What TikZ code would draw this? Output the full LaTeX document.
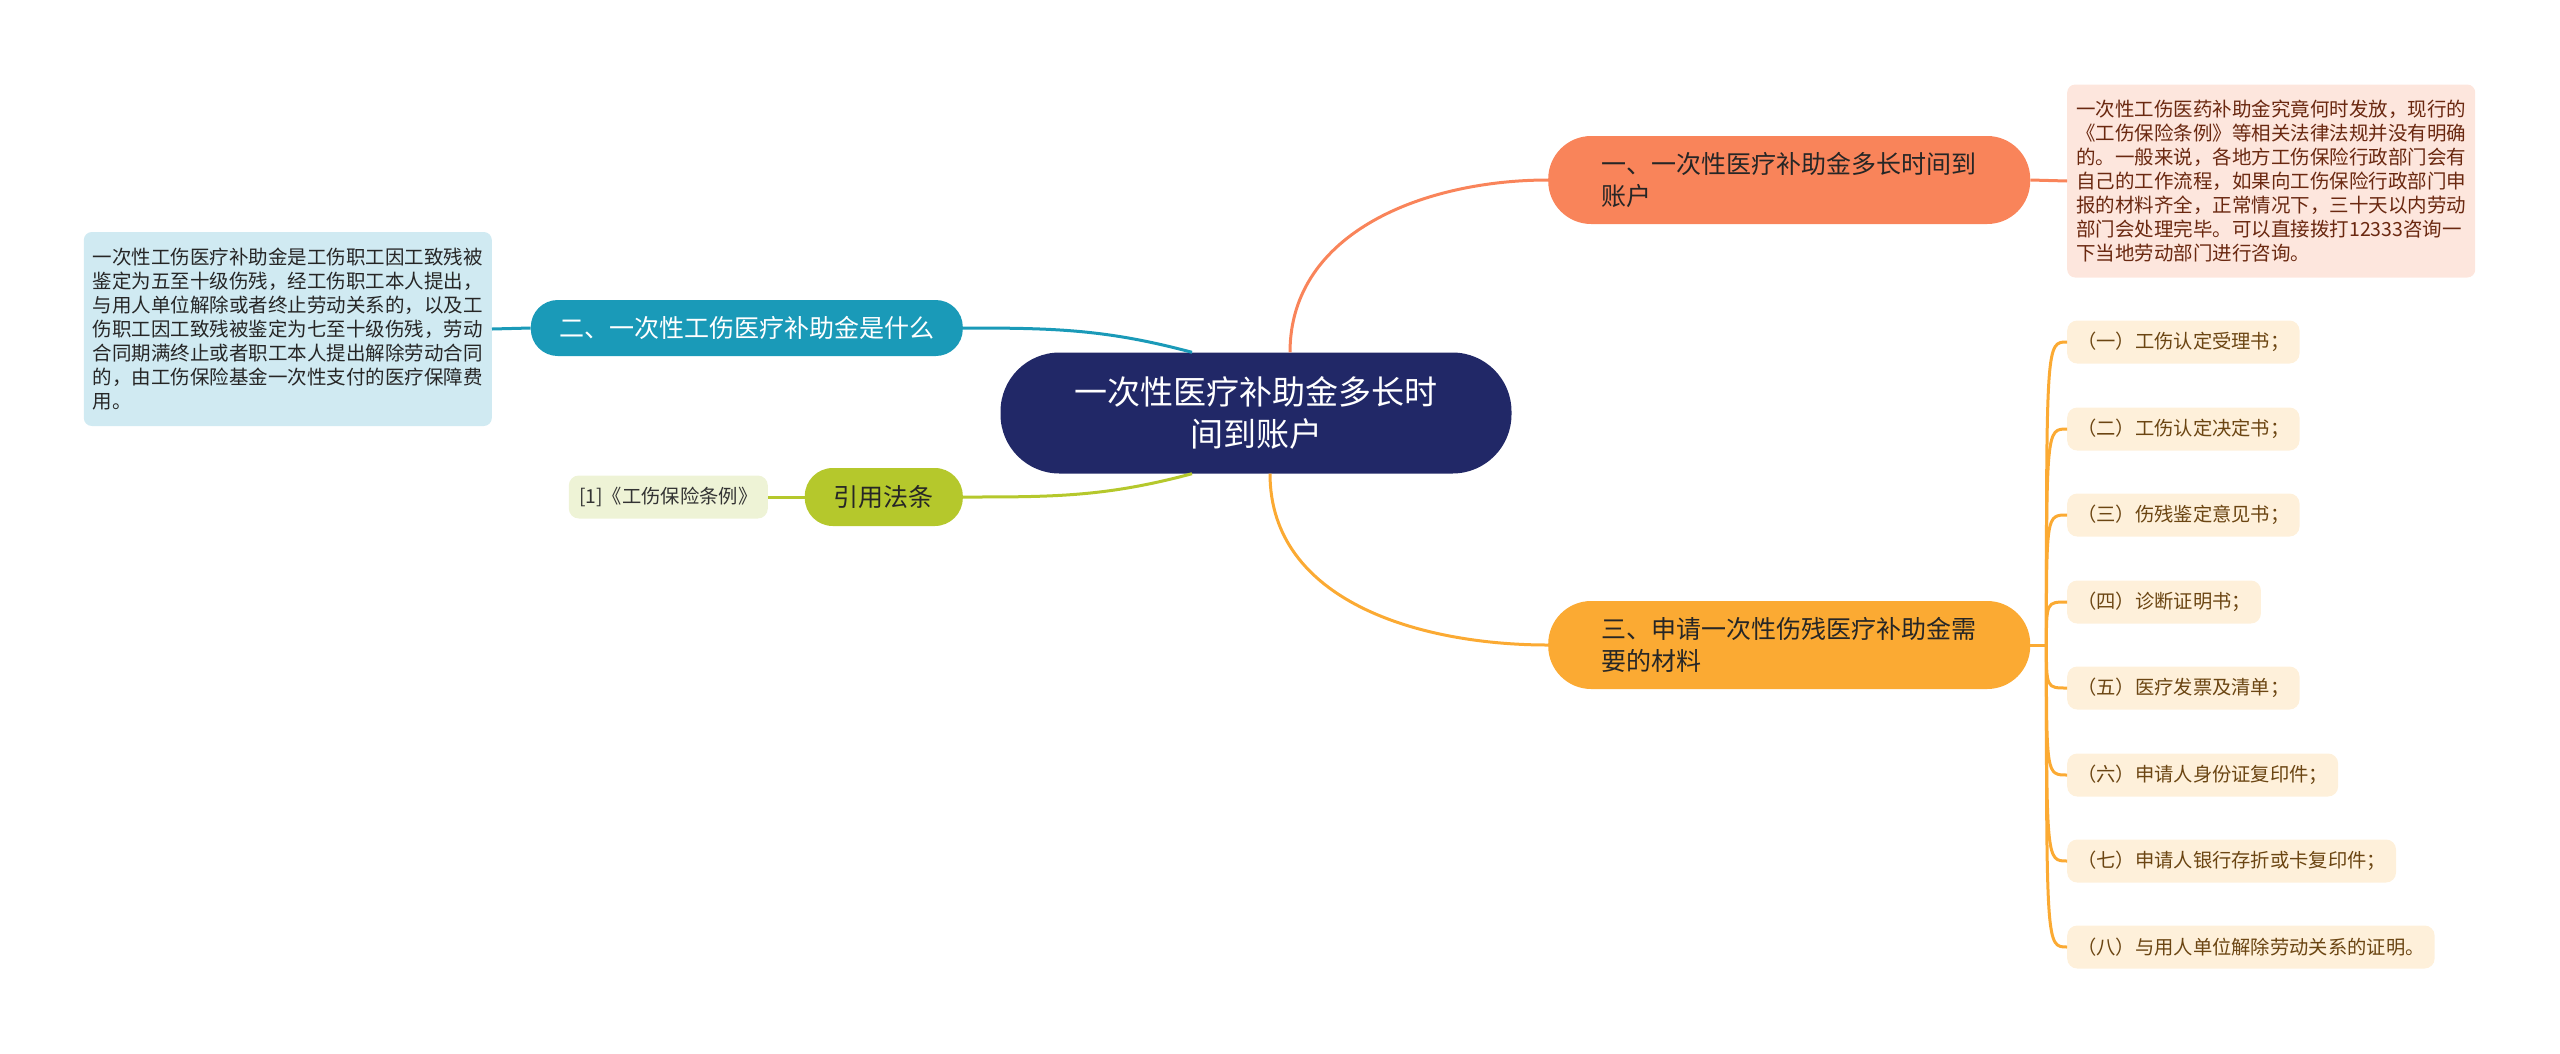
\documentclass[tikz,border=0pt]{standalone}
\usepackage{fontspec}
\setmainfont{Noto Sans CJK SC}
\usetikzlibrary{positioning,calc}
\definecolor{rootblue}{HTML}{212867}
\definecolor{coral}{HTML}{F9845A}
\definecolor{coralbg}{HTML}{FDE6DD}
\definecolor{coraltext}{HTML}{6A2810}
\definecolor{seablue}{HTML}{1A9AB8}
\definecolor{seabg}{HTML}{D0EAF2}
\definecolor{limegreen}{HTML}{B5C82C}
\definecolor{limebg}{HTML}{EEF3D6}
\definecolor{amber}{HTML}{FBAA33}
\definecolor{amberbg}{HTML}{FEF0DA}
\definecolor{ambertext}{HTML}{6B4512}
\tikzstyle{root}=[fill=rootblue,text=white,rounded corners=59pt,minimum width=511pt,minimum height=121pt,align=center,font=\fontsize{33}{42}\selectfont]
\tikzstyle{branch}=[rounded corners=43pt,minimum width=482pt,minimum height=88pt,align=left,font=\fontsize{25}{32}\selectfont]
\tikzstyle{detail}=[rounded corners=8pt,inner xsep=9pt,minimum height=193pt,align=left,font=\fontsize{19.5}{24}\selectfont]
\tikzstyle{leaf}=[fill=amberbg,text=ambertext,rounded corners=10pt,inner xsep=10pt,minimum height=43pt,font=\fontsize{19.3}{24}\selectfont]
\tikzstyle{link}=[line width=3pt]
\begin{document}
\begin{tikzpicture}[x=1pt,y=-1pt]
\useasboundingbox (0,0) rectangle (2560,1053);
\node [root] (root) at (1256,413) {一次性医疗补助金多长时\\间到账户};
\node [branch,fill=coral,text=black!85,anchor=west] (b1) at (1548,180) {一、一次性医疗补助金多长时间到\\账户};
\node [detail,fill=coralbg,text=coraltext,anchor=west] (d1) at (2067,181) {一次性工伤医药补助金究竟何时发放，现行的\\《工伤保险条例》等相关法律法规并没有明确\\的。一般来说，各地方工伤保险行政部门会有\\自己的工作流程，如果向工伤保险行政部门申\\报的材料齐全，正常情况下，三十天以内劳动\\部门会处理完毕。可以直接拨打12333咨询一\\下当地劳动部门进行咨询。};
\node [branch,fill=seablue,text=white,rounded corners=27pt,minimum width=432pt,minimum height=56pt,anchor=east] (b2) at (963,328) {二、一次性工伤医疗补助金是什么};
\node [detail,fill=seabg,text=black!85,minimum height=194pt,anchor=east] (d2) at (492,329) {一次性工伤医疗补助金是工伤职工因工致残被\\鉴定为五至十级伤残，经工伤职工本人提出，\\与用人单位解除或者终止劳动关系的，以及工\\伤职工因工致残被鉴定为七至十级伤残，劳动\\合同期满终止或者职工本人提出解除劳动合同\\的，由工伤保险基金一次性支付的医疗保障费\\用。};
\node [branch,fill=limegreen,text=black!85,rounded corners=28pt,minimum width=158pt,minimum height=58pt,anchor=east] (b4) at (963,497) {引用法条};
\node [leaf,fill=limebg,text=black!80,minimum width=199pt,inner xsep=6pt,anchor=east] (r1) at (768,497) {[1]《工伤保险条例》};
\node [branch,fill=amber,text=black!85,anchor=west] (b3) at (1548,645) {三、申请一次性伤残医疗补助金需\\要的材料};
\node [leaf,anchor=west] (lf1) at (2067,342) {（一）工伤认定受理书；};
\node [leaf,anchor=west] (lf2) at (2067,429) {（二）工伤认定决定书；};
\node [leaf,anchor=west] (lf3) at (2067,515) {（三）伤残鉴定意见书；};
\node [leaf,anchor=west] (lf4) at (2067,602) {（四）诊断证明书；};
\node [leaf,anchor=west] (lf5) at (2067,688) {（五）医疗发票及清单；};
\node [leaf,anchor=west] (lf6) at (2067,775) {（六）申请人身份证复印件；};
\node [leaf,anchor=west] (lf7) at (2067,861) {（七）申请人银行存折或卡复印件；};
\node [leaf,anchor=west] (lf8) at (2067,947) {（八）与用人单位解除劳动关系的证明。};
\draw [link,coral] ([xshift=34pt]root.north) to[out=90,in=180] (b1.west);
\draw [link,coral] (b1.east) -- (d1.west);
\draw [link,seablue] ([xshift=-64pt]root.north) to[out=165,in=0] (b2.east);
\draw [link,seablue] (b2.west) -- (d2.east);
\draw [link,limegreen] ([xshift=-64pt]root.south) to[out=195,in=0] (b4.east);
\draw [link,limegreen] (b4.west) -- (r1.east);
\draw [link,amber] ([xshift=14pt]root.south) to[out=-90,in=180] (b3.west);
\coordinate (j) at ([xshift=16pt]b3.east);
\draw [link,amber] (b3.east) -- (j);
\draw [link,amber] (j) .. controls (j |- lf1.west) .. (lf1.west);
\draw [link,amber] (j) .. controls (j |- lf2.west) .. (lf2.west);
\draw [link,amber] (j) .. controls (j |- lf3.west) .. (lf3.west);
\draw [link,amber] (j) .. controls (j |- lf4.west) .. (lf4.west);
\draw [link,amber] (j) .. controls (j |- lf5.west) .. (lf5.west);
\draw [link,amber] (j) .. controls (j |- lf6.west) .. (lf6.west);
\draw [link,amber] (j) .. controls (j |- lf7.west) .. (lf7.west);
\draw [link,amber] (j) .. controls (j |- lf8.west) .. (lf8.west);
\end{tikzpicture}
\end{document}
